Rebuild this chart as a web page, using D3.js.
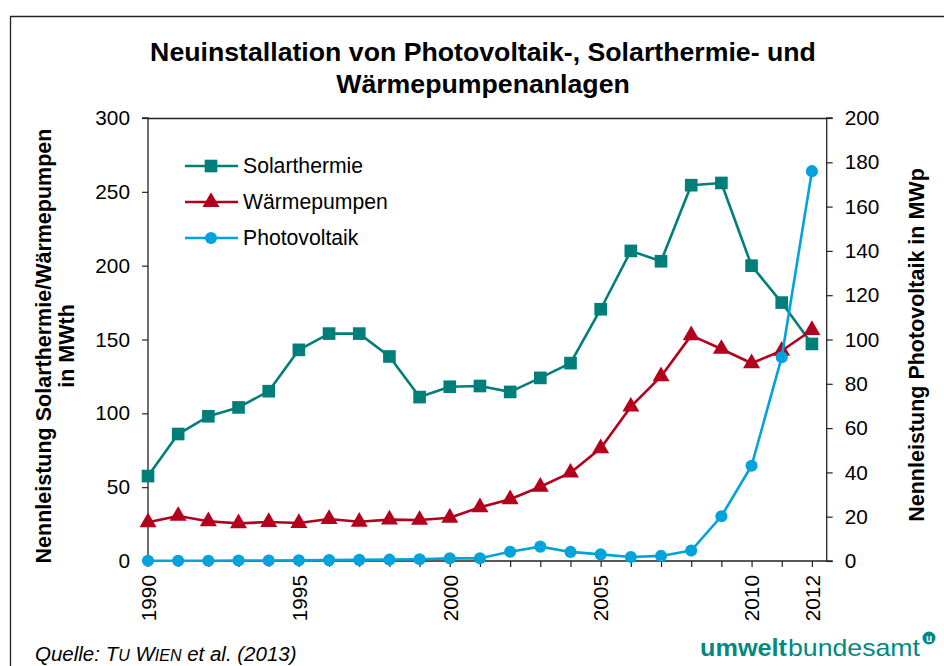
<!DOCTYPE html>
<html><head><meta charset="utf-8">
<script src="https://cdn.jsdelivr.net/npm/d3@7/dist/d3.min.js"></script>
<style>
html,body{margin:0;padding:0;background:#fff;}
svg{display:block;font-family:"Liberation Sans",Arial,sans-serif;}
</style></head>
<body>
<svg id="chart" width="944" height="666"></svg>
<script>
const years = d3.range(1990, 2013);
const solarthermie = [57.5,86,98,104,115,143,154,154,138.5,111,118,118.5,114.5,124,134,170.5,210,203,254.5,256,200,175,147];
const waermepumpen = [26.2,30.5,26.9,25.5,26.4,25.7,28.4,26.6,28,27.8,29.3,36.4,41.8,50.3,59.8,76.3,104.5,125,152.8,143.6,133.9,142.4,156.4];
const photovoltaik = [0.1,0.1,0.1,0.2,0.2,0.3,0.4,0.5,0.6,0.8,1.2,1.2,4.2,6.5,4.1,3.0,1.8,2.3,4.7,20.2,43,92,176];
const leftTicks = [0,50,100,150,200,250,300];
const rightTicks = [0,20,40,60,80,100,120,140,160,180,200];
const xLabelYears = [1990,1995,2000,2005,2010,2012];
const seriesNames = ["Solarthermie","Wärmepumpen","Photovoltaik"];
const colors = {Solarthermie:"#007f7a", "Wärmepumpen":"#b3001d", Photovoltaik:"#00a3dc"};

const svg = d3.select("#chart");
const L = 148, R = 826.7, T = 118, B = 561;
const x = d3.scaleLinear().domain([1990, 2012.49]).range([L, R]);
const yL = d3.scaleLinear().domain([0,300]).range([B, T]);
const yR = d3.scaleLinear().domain([0,200]).range([B, T]);

// outer frame (cut off at right/bottom)
svg.append("path").attr("d","M10.5,666 V16.5 H944").attr("fill","none").attr("stroke","#222").attr("stroke-width",1.3);

// title
const title = svg.append("text").attr("x",483).attr("text-anchor","middle")
  .attr("font-weight","bold").attr("font-size",26.7).attr("fill","#000");
title.append("tspan").attr("x",483).attr("y",61).text("Neuinstallation von Photovoltaik-, Solarthermie- und");
title.append("tspan").attr("x",483).attr("y",93).text("Wärmepumpenanlagen");

// plot top border
svg.append("line").attr("x1",L).attr("x2",R).attr("y1",T+0.5).attr("y2",T+0.5).attr("stroke","#222").attr("stroke-width",1.3);

// left axis
const gL = svg.append("g").attr("transform",`translate(${L},0)`)
  .call(d3.axisLeft(yL).tickValues(leftTicks).tickSize(6).tickPadding(12).tickFormat(d3.format("d")));
// right axis
const gR = svg.append("g").attr("transform",`translate(${R},0)`)
  .call(d3.axisRight(yR).tickValues(rightTicks).tickSize(6).tickPadding(12).tickFormat(d3.format("d")));
// bottom axis
const gB = svg.append("g").attr("transform",`translate(0,${B})`)
  .call(d3.axisBottom(x).tickValues(years).tickSize(6).tickFormat(d => xLabelYears.includes(d) ? String(d) : ""));
gB.selectAll(".tick text").attr("transform","rotate(-90)").attr("text-anchor","end")
  .attr("x",-14).attr("y",0).attr("dy","0.35em");

[gL,gR,gB].forEach(g=>{
  g.selectAll(".domain").attr("stroke","#222").attr("stroke-width",1.3);
  g.selectAll(".tick line").attr("stroke","#222").attr("stroke-width",1.2);
  g.selectAll(".tick text").attr("font-size",20.8).attr("fill","#000").attr("font-family","Liberation Sans, Arial, sans-serif");
});
gL.select(".domain").attr("d",`M-6,${T}H0V${B}H-6`);
gR.select(".domain").attr("d",`M6,${T}H0V${B}H6`);
gB.select(".domain").attr("d",`M${L},6V0H${R}`);

// axis titles
const lt = svg.append("text").attr("transform","translate(0,346) rotate(-90)")
  .attr("text-anchor","middle").attr("font-weight","bold").attr("font-size",21.5).attr("fill","#000");
lt.append("tspan").attr("x",0).attr("y",51).text("Nennleistung Solarthermie/Wärmepumpen");
lt.append("tspan").attr("x",0).attr("y",74).text("in MWth");
svg.append("text").attr("transform","translate(924,345) rotate(-90)")
  .attr("text-anchor","middle").attr("font-weight","bold").attr("font-size",21.5).attr("fill","#000")
  .text("Nennleistung Photovoltaik in MWp");

// series
const data = [
  {name:"Solarthermie", values:solarthermie, y:yL, shape:"square"},
  {name:"Wärmepumpen", values:waermepumpen, y:yL, shape:"triangle"},
  {name:"Photovoltaik", values:photovoltaik, y:yR, shape:"circle"}
];
const symType = {square:d3.symbolSquare, triangle:d3.symbolTriangle, circle:d3.symbolCircle};
const symSize = {square:160, triangle:125, circle:115};

data.forEach(s=>{
  const pts = years.map((yr,i)=>[x(yr), s.y(s.values[i])]);
  svg.append("path").attr("d", d3.line()(pts)).attr("fill","none")
    .attr("stroke",colors[s.name]).attr("stroke-width",2.6).attr("stroke-linejoin","round");
  svg.append("g").selectAll("path").data(pts).join("path")
    .attr("transform",d=>`translate(${d[0]},${d[1]})`)
    .attr("d", d3.symbol().type(symType[s.shape]).size(symSize[s.shape]))
    .attr("fill",colors[s.name]);
});

// legend
const legY = [166,202,238];
data.forEach((s,i)=>{
  const g = svg.append("g").attr("transform",`translate(0,${legY[i]})`);
  g.append("line").attr("x1",185).attr("x2",238).attr("stroke",colors[s.name]).attr("stroke-width",2.6);
  g.append("path").attr("transform","translate(211,0)")
    .attr("d", d3.symbol().type(symType[s.shape]).size(symSize[s.shape])).attr("fill",colors[s.name]);
  g.append("text").attr("x",243).attr("y",0).attr("dy","0.35em").attr("font-size",21.2).attr("fill","#000").text(s.name);
});

// source
const src = svg.append("text").attr("x",35).attr("y",661).attr("font-style","italic").attr("font-size",20.5).attr("fill","#000");
src.append("tspan").text("Quelle: T");
src.append("tspan").attr("font-size",16).text("U");
src.append("tspan").text(" W");
src.append("tspan").attr("font-size",16).text("IEN");
src.append("tspan").text(" et al. (2013)");

// logo
const logoC = "#008a80";
svg.append("text").attr("x",700).attr("y",656).attr("font-size",24).attr("font-weight","bold").attr("fill",logoC)
  .attr("textLength",87).attr("lengthAdjust","spacingAndGlyphs").text("umwelt");
svg.append("text").attr("x",788).attr("y",656).attr("font-size",24).attr("fill",logoC)
  .attr("textLength",132).attr("lengthAdjust","spacingAndGlyphs").text("bundesamt");
svg.append("circle").attr("cx",929).attr("cy",638).attr("r",6.5).attr("fill",logoC);
svg.append("text").attr("x",929).attr("y",641.5).attr("text-anchor","middle").attr("font-size",10).attr("font-weight","bold").attr("fill","#fff").text("u");
</script>
</body></html>
